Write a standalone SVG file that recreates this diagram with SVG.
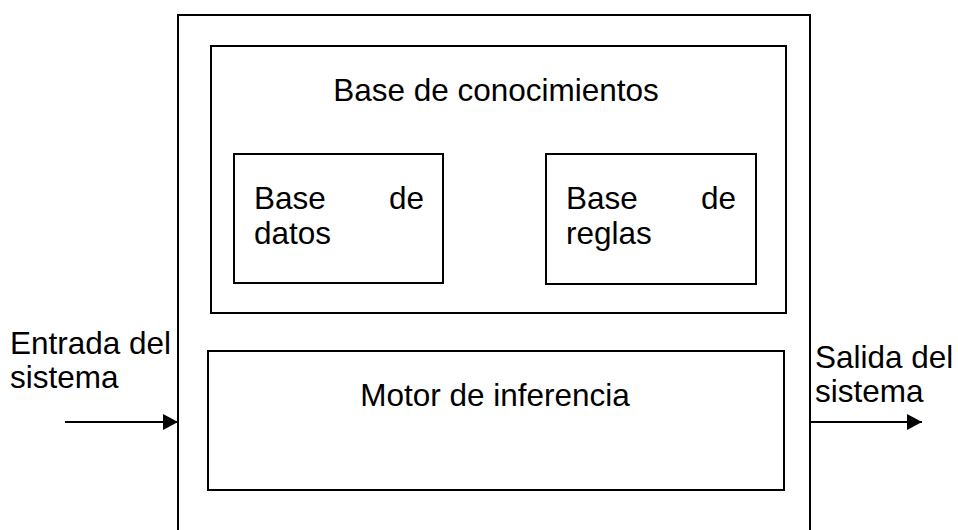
<svg xmlns="http://www.w3.org/2000/svg" width="958" height="530" viewBox="0 0 958 530">
<defs>
<style>
.box{fill:none;stroke:#000;stroke-width:2}
.t{font-family:"Liberation Sans",Arial,sans-serif;font-size:31.5px;fill:#000}
.c{text-anchor:middle}
.e{text-anchor:end}
.ln{stroke:#000;stroke-width:2;fill:none}
</style>
<marker id="ah" markerWidth="15" markerHeight="16" refX="15" refY="8" orient="auto" markerUnits="userSpaceOnUse">
<path d="M0,0 L15,8 L0,16 Z" fill="#000"/>
</marker>
</defs>
<rect width="958" height="530" fill="#fff"/>
<g id="sistema">
<path class="box" d="M178,540 L178,15 L810,15 L810,540"/>
</g>
<g id="base-conocimientos">
<rect class="box" x="211" y="46" width="575" height="267"/>
<text class="t c" x="496" y="101">Base de conocimientos</text>
</g>
<g id="base-datos">
<rect class="box" x="234" y="154" width="209" height="129"/>
<text class="t" x="254" y="209">Base</text>
<text class="t e" x="424" y="209">de</text>
<text class="t" x="254" y="244">datos</text>
</g>
<g id="base-reglas">
<rect class="box" x="546" y="154" width="210" height="130"/>
<text class="t" x="566" y="209">Base</text>
<text class="t e" x="736" y="209">de</text>
<text class="t" x="566" y="244">reglas</text>
</g>
<g id="motor">
<rect class="box" x="208" y="351" width="576" height="139"/>
<text class="t c" x="495" y="406">Motor de inferencia</text>
</g>
<g id="entrada">
<text class="t" x="10" y="354">Entrada del</text>
<text class="t" x="10" y="388">sistema</text>
</g>
<g id="salida">
<text class="t" x="815" y="368">Salida del</text>
<text class="t" x="815" y="402">sistema</text>
</g>
<g id="connectors">
<line class="ln" x1="65" y1="422" x2="178" y2="422" marker-end="url(#ah)"/>
<line class="ln" x1="810" y1="422" x2="922" y2="422" marker-end="url(#ah)"/>
</g>
</svg>
